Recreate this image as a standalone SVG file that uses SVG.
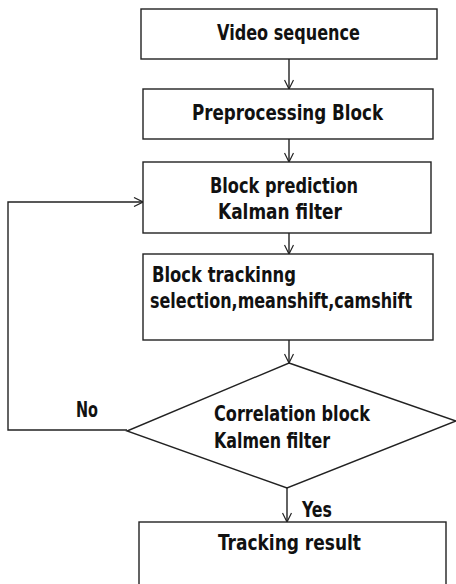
<svg xmlns="http://www.w3.org/2000/svg" width="456" height="584" viewBox="0 0 456 584">
<defs>
<style>
.box{fill:#fff;stroke:#222;stroke-width:1.4}
.ln{fill:none;stroke:#222;stroke-width:1.4}
.t{font-family:"DejaVu Sans Condensed","DejaVu Sans","Liberation Sans",sans-serif;font-weight:bold;font-size:22px;fill:#111}
</style>
<marker id="ah" viewBox="0 0 10 10" refX="10" refY="5" markerWidth="10" markerHeight="10" markerUnits="userSpaceOnUse" orient="auto">
<path d="M1,0.5 L10,5 L1,9.5" fill="none" stroke="#222" stroke-width="1.2"/>
</marker>
</defs>
<rect width="456" height="584" fill="#fff"/>
<g id="connectors">
<line class="ln" x1="289" y1="59" x2="289" y2="89" marker-end="url(#ah)"/>
<line class="ln" x1="289" y1="139" x2="289" y2="162" marker-end="url(#ah)"/>
<line class="ln" x1="289" y1="233" x2="289" y2="254" marker-end="url(#ah)"/>
<line class="ln" x1="289" y1="340" x2="289" y2="363" marker-end="url(#ah)"/>
<line class="ln" x1="287" y1="488" x2="287" y2="522" marker-end="url(#ah)"/>
<polyline class="ln" points="127,430 8,430 8,202 143,202" marker-end="url(#ah)"/>
<text class="t" x="76" y="417" textLength="22" lengthAdjust="spacingAndGlyphs">No</text>
<text class="t" x="302" y="517" textLength="30" lengthAdjust="spacingAndGlyphs">Yes</text>
</g>
<g id="n1">
<rect class="box" x="141" y="9" width="296" height="50"/>
<text class="t" x="217" y="40" textLength="143" lengthAdjust="spacingAndGlyphs">Video sequence</text>
</g>
<g id="n2">
<rect class="box" x="143" y="89" width="290" height="50"/>
<text class="t" x="192" y="120" textLength="191" lengthAdjust="spacingAndGlyphs">Preprocessing Block</text>
</g>
<g id="n3">
<rect class="box" x="143" y="162" width="288" height="71"/>
<text class="t" x="210" y="193" textLength="148" lengthAdjust="spacingAndGlyphs">Block prediction</text>
<text class="t" x="218" y="219" textLength="124" lengthAdjust="spacingAndGlyphs">Kalman filter</text>
</g>
<g id="n4">
<rect class="box" x="143" y="254" width="290" height="86"/>
<text class="t" x="152" y="282" textLength="144" lengthAdjust="spacingAndGlyphs">Block trackinng</text>
<text class="t" transform="translate(150,308) scale(0.72,1)" x="0" y="0" textLength="364" lengthAdjust="spacingAndGlyphs">selection,meanshift,camshift</text>
</g>
<g id="n5">
<polygon class="box" points="289,363 456,421 287,488 127,431"/>
<text class="t" x="214" y="421" textLength="156" lengthAdjust="spacingAndGlyphs">Correlation block</text>
<text class="t" x="214" y="448" textLength="116" lengthAdjust="spacingAndGlyphs">Kalmen filter</text>
</g>
<g id="n6">
<rect class="box" x="139" y="522" width="307" height="70"/>
<text class="t" x="218" y="550" textLength="143" lengthAdjust="spacingAndGlyphs">Tracking result</text>
</g>
</svg>
